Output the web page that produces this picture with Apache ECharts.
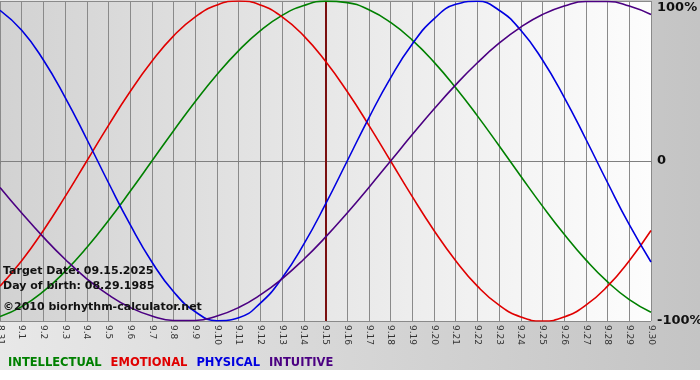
<!DOCTYPE html>
<html><head><meta charset="utf-8">
<script src="https://cdn.jsdelivr.net/npm/echarts@6/dist/echarts.min.js"></script>
<style>html,body{margin:0;padding:0;background:#fff}#c{width:700px;height:380px}</style>
</head><body><div id="c"></div>
<script>
var days = ['8.31','9.1','9.2','9.3','9.4','9.5','9.6','9.7','9.8','9.9','9.10','9.11','9.12','9.13','9.14','9.15','9.16','9.17','9.18','9.19','9.20','9.21','9.22','9.23','9.24','9.25','9.26','9.27','9.28','9.29','9.30'];
var intellectual = [-97.2,-91.0,-81.5,-69.0,-54.1,-37.2,-18.9,0,18.9,37.2,54.1,69.0,81.5,91.0,97.2,99.9,99.0,94.5,86.6,75.6,61.8,45.8,28.2,9.5,-9.5,-28.2,-45.8,-61.8,-75.6,-86.6,-94.5];
var emotional = [-78.2,-62.3,-43.4,-22.3,0,22.3,43.4,62.3,78.2,90.1,97.5,100,97.5,90.1,78.2,62.3,43.4,22.3,0,-22.3,-43.4,-62.3,-78.2,-90.1,-97.5,-100,-97.5,-90.1,-78.2,-62.3,-43.4];
var physical = [94.2,81.7,63.1,39.8,13.6,-13.6,-39.8,-63.1,-81.7,-94.2,-99.8,-97.9,-88.8,-73.1,-52.0,-27.0,0,27.0,52.0,73.1,88.8,97.9,99.8,94.2,81.7,63.1,39.8,13.6,-13.6,-39.8,-63.1];
var intuitive = [-16.5,-32.5,-47.6,-61.4,-73.6,-83.7,-91.6,-96.9,-99.7,-99.7,-96.9,-91.6,-83.7,-73.6,-61.4,-47.6,-32.5,-16.5,0,16.5,32.5,47.6,61.4,73.6,83.7,91.6,96.9,99.7,99.7,96.9,91.6];
var targetDay = '9.15';
var infoLines = ['Target Date: 09.15.2025','Day of birth: 08.29.1985','©2010 biorhythm-calculator.net'];
var seriesNames = ['INTELLECTUAL','EMOTIONAL','PHYSICAL','INTUITIVE'];
var seriesColors = ['#008000','#e00000','#0000e0','#4b0082'];
var seriesData = [intellectual, emotional, physical, intuitive];

var chart = echarts.init(document.getElementById('c'));
var series = seriesNames.map(function(n,i){
  return {name:n,type:'line',data:seriesData[i],smooth:true,symbol:'none',
    lineStyle:{color:seriesColors[i],width:1.6},itemStyle:{color:seriesColors[i]},z:3};
});
series[0].markLine = {silent:true,symbol:'none',label:{show:false},
  lineStyle:{color:'#7a1010',width:2,type:'solid'},data:[{xAxis:targetDay}],z:2};
chart.setOption({
  animation:false,
  backgroundColor:'#ffffff',
  graphic:[
    {type:'rect',z:-10,shape:{x:0,y:0,width:700,height:370},
     style:{fill:new echarts.graphic.LinearGradient(0,0,1,0,[{offset:0,color:'#e8e8e8'},{offset:1,color:'#c4c4c4'}])}},
    {type:'text',left:3,top:266,z:100,style:{text:infoLines[0],font:'bold 11px "DejaVu Sans"',fill:'#111'}},
    {type:'text',left:3,top:281,z:100,style:{text:infoLines[1],font:'bold 11px "DejaVu Sans"',fill:'#111'}},
    {type:'text',left:3,top:302,z:100,style:{text:infoLines[2],font:'bold 11px "DejaVu Sans"',fill:'#111'}}
  ],
  grid:{left:0,right:49,top:1,bottom:59,show:true,borderWidth:0,outerBoundsMode:'none',containLabel:false,
    backgroundColor:new echarts.graphic.LinearGradient(0,0,1,0,[{offset:0,color:'#d2d2d2'},{offset:1,color:'#fdfdfd'}])},
  legend:{data:seriesNames.map(function(n,i){return {name:n,textStyle:{color:seriesColors[i]}};}),
    icon:'none',itemWidth:0,itemHeight:0,itemGap:4,left:-2,top:352,
    textStyle:{fontFamily:'DejaVu Sans',fontWeight:'bold',fontSize:11.5,padding:0}},
  xAxis:{type:'category',data:days,boundaryGap:false,
    axisLine:{lineStyle:{color:'#808080',width:1}},
    axisTick:{show:true,length:3,interval:0,lineStyle:{color:'#808080'}},
    splitLine:{show:true,interval:0,lineStyle:{color:'#8a8a8a',width:1}},
    axisLabel:{rotate:-90,interval:0,margin:4,fontSize:9,fontFamily:'DejaVu Sans',color:'#333'}},
  yAxis:{type:'value',position:'right',min:-100,max:100,interval:100,
    axisLine:{show:false},axisTick:{show:false},
    splitLine:{show:true,lineStyle:{color:'#8a8a8a',width:1}},
    axisLabel:{margin:6,fontSize:13,fontWeight:'bold',fontFamily:'DejaVu Sans',color:'#111',
      verticalAlignMaxLabel:'top',
      formatter:function(v){return v===0?'0':v+'%';}}},
  series:series
});
</script></body></html>
